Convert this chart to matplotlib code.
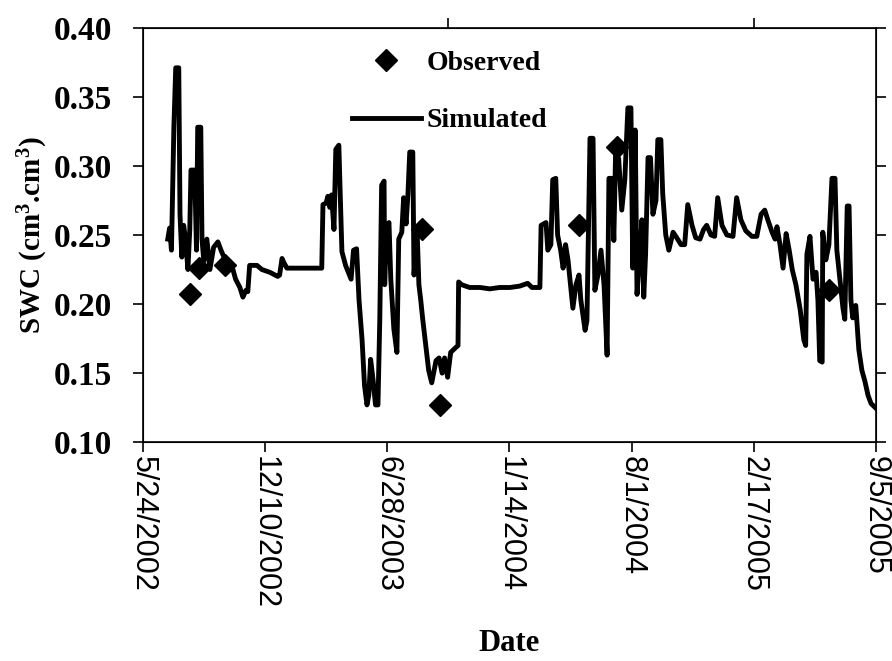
import numpy as np
import pandas as pd
import matplotlib
matplotlib.use("Agg")
import matplotlib.pyplot as plt

# Simulated soil water content (days after 5/24/2002, value)
sim_days = [41, 44, 47, 51, 54, 59, 61, 64, 67, 70, 74, 77, 79, 85, 88, 90, 95, 97, 100, 105,
            110, 116, 123, 129, 136, 142, 147, 152, 159, 164, 169, 172, 175, 187, 195, 208, 221, 224, 228, 231,
            236, 257, 293, 295, 300, 303, 306, 309, 313, 316, 321, 323, 326, 332, 341, 345, 350, 354, 359, 363,
            367, 370, 373, 377, 381, 385, 388, 391, 395, 396, 399, 403, 406, 411, 416, 419, 424, 427, 431, 434,
            437, 442, 444, 449, 452, 455, 458, 463, 468, 473, 480, 485, 490, 494, 499, 504, 511, 516, 517, 522,
            535, 552, 568, 584, 601, 617, 630, 637, 650, 652, 660, 663, 668, 671, 676, 679, 684, 688, 692, 696,
            701, 704, 709, 714, 717, 724, 727, 732, 737, 740, 745, 750, 755, 760, 763, 768, 771, 774, 779, 784,
            789, 794, 799, 802, 806, 809, 814, 817, 820, 823, 825, 827, 831, 835, 840, 843, 848, 851, 856, 861,
            868, 874, 881, 887, 892, 899, 905, 912, 918, 923, 930, 936, 941, 948, 956, 966, 972, 979, 987, 997,
            1005, 1012, 1018, 1023, 1030, 1035, 1038, 1043, 1048, 1053, 1058, 1063, 1069, 1076, 1082, 1085, 1087, 1092, 1097, 1102,
            1105, 1108, 1112, 1113, 1118, 1123, 1128, 1133, 1136, 1141, 1146, 1149, 1153, 1156, 1159, 1162, 1167, 1172, 1177, 1182,
            1187, 1192, 1199]
sim_swc = [0.247, 0.255, 0.239, 0.328, 0.371, 0.371, 0.265, 0.234, 0.257, 0.247, 0.225, 0.254, 0.297, 0.297, 0.239, 0.328, 0.328, 0.247, 0.231, 0.247,
           0.225, 0.241, 0.245, 0.238, 0.231, 0.231, 0.226, 0.218, 0.212, 0.205, 0.210, 0.209, 0.228, 0.228, 0.225, 0.223, 0.220, 0.221, 0.233, 0.230,
           0.226, 0.226, 0.226, 0.272, 0.273, 0.278, 0.270, 0.279, 0.254, 0.312, 0.315, 0.283, 0.238, 0.228, 0.218, 0.239, 0.240, 0.203, 0.174, 0.141,
           0.127, 0.134, 0.160, 0.145, 0.127, 0.127, 0.189, 0.286, 0.289, 0.214, 0.254, 0.259, 0.218, 0.182, 0.165, 0.247, 0.252, 0.277, 0.258, 0.279,
           0.310, 0.310, 0.221, 0.254, 0.214, 0.203, 0.190, 0.171, 0.152, 0.143, 0.159, 0.161, 0.150, 0.161, 0.147, 0.165, 0.168, 0.170, 0.216, 0.214,
           0.212, 0.212, 0.211, 0.212, 0.212, 0.213, 0.215, 0.212, 0.212, 0.257, 0.259, 0.239, 0.243, 0.290, 0.291, 0.250, 0.239, 0.226, 0.243, 0.232,
           0.210, 0.197, 0.214, 0.221, 0.203, 0.181, 0.188, 0.320, 0.320, 0.210, 0.221, 0.239, 0.214, 0.163, 0.291, 0.291, 0.246, 0.312, 0.305, 0.268,
           0.290, 0.342, 0.342, 0.226, 0.326, 0.207, 0.239, 0.261, 0.205, 0.236, 0.272, 0.306, 0.306, 0.265, 0.275, 0.319, 0.319, 0.280, 0.250, 0.239,
           0.252, 0.248, 0.243, 0.243, 0.272, 0.257, 0.248, 0.247, 0.254, 0.257, 0.250, 0.249, 0.277, 0.257, 0.250, 0.249, 0.277, 0.261, 0.253, 0.249,
           0.249, 0.265, 0.268, 0.261, 0.252, 0.247, 0.256, 0.243, 0.226, 0.251, 0.239, 0.225, 0.214, 0.196, 0.174, 0.170, 0.236, 0.249, 0.218, 0.223,
           0.203, 0.159, 0.158, 0.252, 0.232, 0.243, 0.291, 0.291, 0.239, 0.218, 0.197, 0.189, 0.271, 0.271, 0.203, 0.190, 0.199, 0.167, 0.152, 0.144,
           0.134, 0.128, 0.125]

# Observed soil water content
obs_days = [77, 92, 134, 457, 486, 714, 776, 1123]
obs_swc = [0.207, 0.226, 0.228, 0.254, 0.127, 0.257, 0.314, 0.210]

tick_labels = ['5/24/2002', '12/10/2002', '6/28/2003', '1/14/2004', '8/1/2004', '2/17/2005', '9/5/2005']
start = pd.Timestamp('2002-05-24')

sim_dates = start + pd.to_timedelta(sim_days, unit='D')
obs_dates = start + pd.to_timedelta(obs_days, unit='D')
tick_dates = pd.to_datetime(tick_labels, format='%m/%d/%Y')

plt.rcParams['font.family'] = ['Liberation Serif', 'DejaVu Serif']
plt.rcParams['mathtext.fontset'] = 'custom'
plt.rcParams['mathtext.bf'] = 'Liberation Serif:bold'
plt.rcParams['mathtext.rm'] = 'Liberation Serif:bold'
plt.rcParams['mathtext.default'] = 'bf'

fig = plt.figure(figsize=(8.92, 6.61), dpi=100)
ax = fig.add_axes([0.160, 0.331, 0.822, 0.627])

ax.plot(obs_dates, obs_swc, linestyle='none', marker='D', markersize=11, color='black', label='Observed')
ax.plot(sim_dates, sim_swc, color='black', linewidth=3.5, label='Simulated')

ax.set_xlim(tick_dates[0], tick_dates[-1])
ax.set_ylim(0.10, 0.40)
ax.set_yticks(np.arange(0.10, 0.401, 0.05))
ax.set_yticklabels([f'{v:.2f}' for v in np.arange(0.10, 0.401, 0.05)],
                   fontsize=24, fontweight='bold', family='Liberation Serif')
ax.set_xticks(tick_dates)
ax.set_xticklabels(tick_labels, rotation=270, fontsize=22, family='Liberation Sans',
                   ha='center', va='top')

ax.tick_params(axis='both', direction='out', length=7, width=1.2, colors='black')
ax.tick_params(axis='y', right=True, pad=15)
ax.tick_params(axis='x', pad=3)
for s in ax.spines.values():
    s.set_linewidth(1.2)

# extra ticks on the top axis
top = ax.twiny()
top.set_xlim(ax.get_xlim())
top.set_xticks([start + pd.Timedelta(days=500), start + pd.Timedelta(days=1000)])
top.set_xticklabels([])
top.tick_params(axis='x', direction='out', length=7, width=1.2)

ax.set_ylabel('SWC (cm$^3$.cm$^3$)', fontsize=21, fontweight='bold', labelpad=3)
ax.set_xlabel('Date', fontsize=22, fontweight='bold', labelpad=14)

ax.legend(loc='upper left', bbox_to_anchor=(0.285, 0.945), frameon=False,
          prop={'family': 'Liberation Serif', 'weight': 'bold', 'size': 20},
          handlelength=2.5, handletextpad=0.2, labelspacing=1.15,
          borderpad=0, borderaxespad=0, numpoints=1)

fig.savefig('out.png', dpi=100)
